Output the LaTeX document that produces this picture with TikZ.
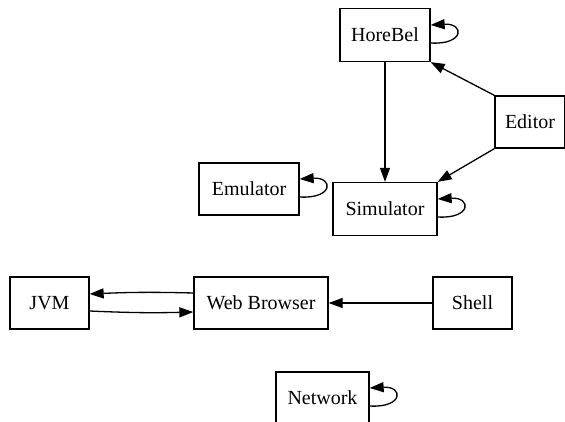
\documentclass[tikz,border=0pt]{standalone}
\usepackage{fontspec}
\setmainfont{Liberation Serif}
\usetikzlibrary{arrows.meta}
\tikzset{
  box/.style={draw, line width=1.3pt, inner sep=0pt, font=\fontsize{20}{24}\selectfont},
  arr/.style={line width=1.3pt, -{Triangle[length=14pt,width=10pt]}},
}
\begin{document}
\begin{tikzpicture}[x=1pt,y=-1pt]
\useasboundingbox (0,0) rectangle (565,422);
\clip (0,0) rectangle (565,422);
% nodes
\node[box, minimum width=90pt, minimum height=53pt] (hb) at (385,35) {HoreBel};
\node[box, minimum width=70pt, minimum height=52pt] (ed) at (530,122) {Editor};
\node[box, minimum width=104pt, minimum height=53pt] (sim) at (385,209) {Simulator};
\node[box, minimum width=100pt, minimum height=52pt] (emu) at (249,189) {Emulator};
\node[box, minimum width=79pt, minimum height=52pt] (jvm) at (49.5,303) {JVM};
\node[box, minimum width=134pt, minimum height=52pt] (wb) at (261,303) {Web Browser};
\node[box, minimum width=79pt, minimum height=52pt] (sh) at (472.5,303) {Shell};
\node[box, minimum width=93pt, minimum height=52pt] (net) at (322.5,398) {Network};
% edges
\draw[arr] (hb) -- (sim);
\draw[arr] (ed.north west) -- (hb.south east);
\draw[arr] (ed.south west) -- (sim.north east);
\draw[arr] ([yshift=10pt]wb.west) to[bend right=2] ([yshift=9pt]jvm.east);
\draw[arr] ([yshift=-8pt]jvm.east) to[bend right=2] ([yshift=-9pt]wb.west);
\draw[arr] (sh) -- (wb);
% self loops
\foreach \n in {hb,sim,emu,net}{
  \draw[arr] ([yshift=-8pt]\n.east) .. controls +(34,2) and +(34,-2) .. ([yshift=10pt]\n.east);
}
\end{tikzpicture}
\end{document}
